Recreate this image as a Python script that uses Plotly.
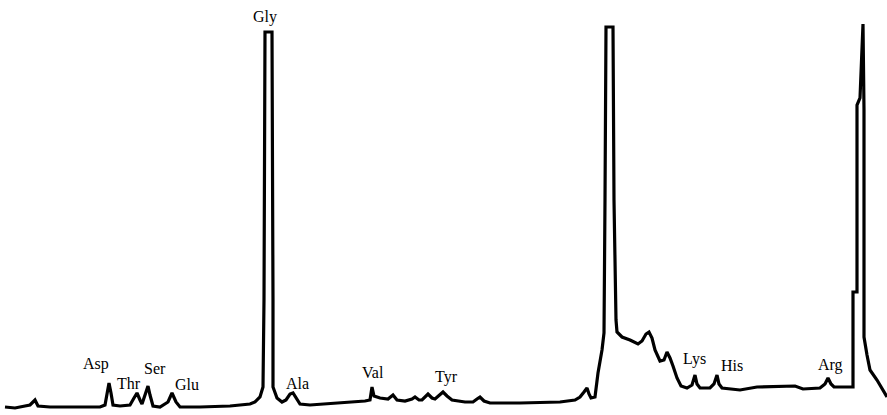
import plotly.graph_objects as go

# Chromatogram trace: retention position (x) and detector response (y, upward)
retention = [5, 15, 25, 30, 35, 38, 50, 80, 100, 105, 107, 109, 111, 113, 120, 130, 134, 137, 140, 142,
             145, 148, 150, 153, 160, 168, 172, 176, 180, 200, 230, 250, 255, 260, 263, 264, 265, 272, 273, 273,
             277, 282, 286, 290, 293, 296, 300, 310, 340, 365, 370, 372, 374, 380, 388, 393, 397, 405, 412, 415,
             419, 422, 428, 432, 435, 440, 443, 447, 452, 465, 473, 477, 480, 484, 490, 520, 560, 575, 580, 584,
             587, 589, 591, 595, 598, 602, 604, 605, 606, 613, 614, 616, 617, 622, 630, 638, 642, 646, 649, 652,
             655, 660, 664, 667, 670, 673, 677, 681, 687, 692, 695, 697, 700, 710, 714, 717, 719, 722, 740, 757,
             780, 795, 803, 820, 825, 828, 831, 834, 853, 853, 857, 857, 860, 863, 864, 864, 867, 870, 877, 883, 887]
response = [8, 7, 9, 10, 15, 9, 8, 8, 8, 10, 22, 32, 22, 10, 9, 10, 17, 22, 15, 11,
            20, 29, 20, 9, 8, 13, 22, 13, 8, 8, 9, 11, 13, 18, 28, 115, 383, 383, 115, 28,
            17, 13, 15, 21, 22, 17, 11, 10, 12, 14, 15, 28, 19, 17, 16, 20, 15, 14, 16, 18,
            15, 15, 21, 17, 16, 21, 23, 19, 15, 13, 13, 16, 18, 14, 12, 12, 13, 15, 18, 23,
            27, 21, 17, 18, 42, 65, 82, 215, 388, 388, 215, 95, 83, 78, 75, 71, 74, 81, 83, 77,
            65, 54, 55, 63, 57, 49, 37, 29, 27, 30, 40, 31, 27, 27, 31, 40, 31, 27, 25, 28,
            29, 29, 26, 27, 31, 37, 31, 28, 28, 123, 123, 310, 317, 391, 305, 78, 60, 45, 35, 25, 18]

# Peak labels
peak_names = ["Asp", "Thr", "Ser", "Glu", "Gly", "Ala", "Val", "Tyr", "Lys", "His", "Arg"]
label_x = [96, 129, 155, 187, 265, 297, 373, 446, 694, 732, 830]
label_y = [51, 32, 47, 31, 398, 32, 43, 38, 56, 50, 50]

fig = go.Figure()
fig.add_trace(go.Scatter(x=retention, y=response, mode="lines",
                         line=dict(color="black", width=3.2), hoverinfo="skip", showlegend=False))

for name, lx, ly in zip(peak_names, label_x, label_y):
    fig.add_annotation(x=lx, y=ly, text=name, showarrow=False, xanchor="center", yanchor="middle",
                       font=dict(family="Liberation Serif, Times New Roman, serif", size=16, color="black"))

fig.update_layout(width=887, height=415, margin=dict(l=0, r=0, t=0, b=0),
                  plot_bgcolor="white", paper_bgcolor="white", showlegend=False)
fig.update_xaxes(range=[0, 887], visible=False, showgrid=False, zeroline=False)
fig.update_yaxes(range=[0, 415], visible=False, showgrid=False, zeroline=False)

fig.write_html("out.html")
